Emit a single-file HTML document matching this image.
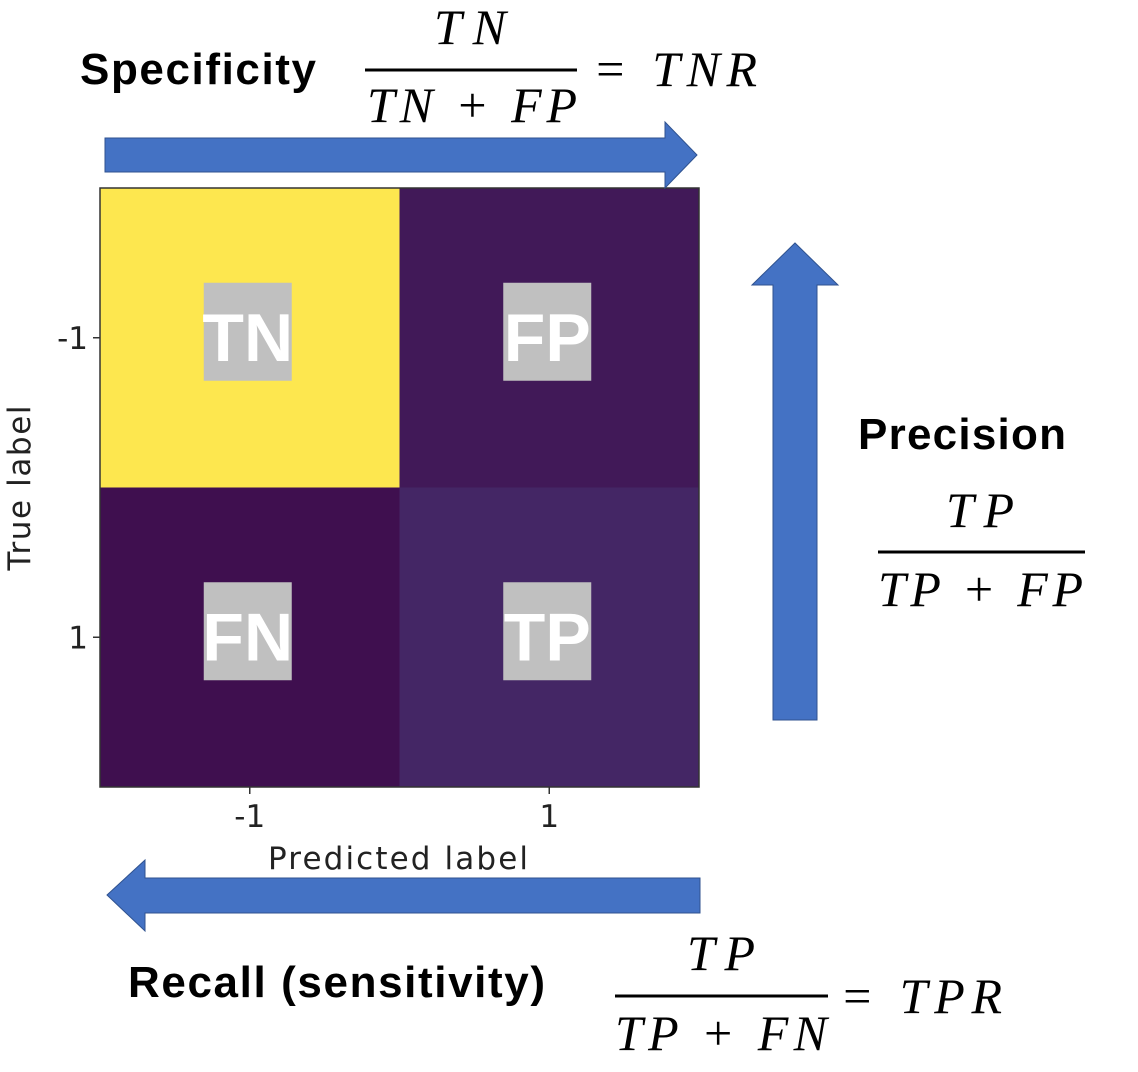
<!DOCTYPE html>
<html><head><meta charset="utf-8"><style>
body{margin:0;background:#fff;width:1138px;height:1072px;overflow:hidden}
svg{display:block}
.b{font-family:"Liberation Sans",sans-serif;font-weight:bold;fill:#000}
.m{font-family:"Liberation Serif",serif;font-style:italic;fill:#000}
.t{font-family:"DejaVu Sans","Liberation Sans",sans-serif;fill:#222}
</style></head><body>
<svg id="s" width="1138" height="1072">
  <g id="cells"></g>
  <rect x="100" y="188" width="599" height="599" fill="none" stroke="#333" stroke-width="1.5"/>
  <g id="ticks"></g>
  <text class="t" x="398" y="869" font-size="31" text-anchor="middle" textLength="260">Predicted label</text>
  <text class="t" transform="translate(30,488) rotate(-90)" font-size="31" text-anchor="middle" textLength="165">True label</text>

  <polygon points="105,138 665,138 665,122 697,155 665,188 665,172 105,172" fill="#4472c4" stroke="#2f528f" stroke-width="1"/>
  <polygon points="773,720 773,285 752,285 795,243 838,285 817,285 817,720" fill="#4472c4" stroke="#2f528f" stroke-width="1"/>
  <polygon points="700,878 145,878 145,860 107,895 145,931 145,913 700,913" fill="#4472c4" stroke="#2f528f" stroke-width="1"/>

  <text class="b" x="80" y="84" font-size="44" textLength="236">Specificity</text>
  <g>
    <text class="m" x="434" y="44" font-size="50" textLength="72">TN</text>
    <line x1="365" y1="70" x2="577" y2="70" stroke="#000" stroke-width="3"/>
    <text class="m" x="367" y="122" font-size="50" textLength="210">TN + FP</text>
    <text class="m" x="593" y="86" font-size="50" textLength="164">= TNR</text>
  </g>
  <text class="b" x="858" y="449" font-size="44" textLength="208">Precision</text>
  <g>
    <text class="m" x="946" y="527" font-size="50" textLength="68">TP</text>
    <line x1="878" y1="552" x2="1085" y2="552" stroke="#000" stroke-width="3"/>
    <text class="m" x="878" y="606" font-size="50" textLength="205">TP + FP</text>
  </g>
  <text class="b" x="128" y="997" font-size="44" textLength="417">Recall (sensitivity)</text>
  <g>
    <text class="m" x="687" y="970" font-size="50" textLength="68">TP</text>
    <line x1="615" y1="996" x2="828" y2="996" stroke="#000" stroke-width="3"/>
    <text class="m" x="615" y="1050" font-size="50" textLength="212">TP + FN</text>
    <text class="m" x="840" y="1013" font-size="50" textLength="162">= TPR</text>
  </g>
</svg>
<script>
const rowLabels=["-1","1"];
const colLabels=["-1","1"];
const cellValues=[[1.0,0.03],[0.0,0.07]];
const cellNames=[["TN","FP"],["FN","TP"]];
const NS="http://www.w3.org/2000/svg";
const X0=100,Y0=188,S=599;
const cw=S/colLabels.length, ch=S/rowLabels.length;
function xPos(i){return X0+i*cw;}
function yPos(i){return Y0+i*ch;}
const stops=[[0,[0x3f,0x0f,0x4f]],[0.1,[0x46,0x30,0x6e]],[1,[0xfd,0xe7,0x4f]]];
function color(v){
  for(let k=1;k<stops.length;k++){
    if(v<=stops[k][0]){const a=stops[k-1],b=stops[k];const t=(v-a[0])/(b[0]-a[0]);
      const c=a[1].map((x,j)=>Math.round(x+(b[1][j]-x)*t));return `rgb(${c})`;}
  }
  return 'rgb('+stops[stops.length-1][1]+')';
}
function mk(tag,attrs,parent){const e=document.createElementNS(NS,tag);for(const k in attrs)e.setAttribute(k,attrs[k]);parent.appendChild(e);return e;}
const cells=document.getElementById('cells');
for(let r=0;r<rowLabels.length;r++)for(let c=0;c<colLabels.length;c++){
  const rect=mk('rect',{x:xPos(c),y:yPos(r),width:cw,height:ch,fill:color(cellValues[r][c])},cells);
  
  
  const cx=xPos(c)+cw/2, cy=yPos(r)+ch/2;
  const box=mk('rect',{x:cx-46,y:cy-55,width:88,height:98,fill:'#c0c0c0'},cells);
  
  
  const t=mk('text',{x:cx-2,y:cy+23,'text-anchor':'middle','font-size':'68','font-family':'"Liberation Sans",sans-serif','font-weight':'bold',fill:'#fff'},cells);
  t.textContent=cellNames[r][c];
  
  
}
const ticks=document.getElementById('ticks');
colLabels.forEach((l,i)=>{
  const x=xPos(i)+cw/2;
  mk('line',{x1:x,y1:787,x2:x,y2:794,stroke:'#333','stroke-width':1.5},ticks);
  const t=mk('text',{x:x,y:827,'text-anchor':'middle','font-size':'31',class:'t'},ticks);
  t.textContent=l;
  
  
});
rowLabels.forEach((l,i)=>{
  const y=yPos(i)+ch/2;
  mk('line',{x1:93,y1:y,x2:100,y2:y,stroke:'#333','stroke-width':1.5},ticks);
  const t=mk('text',{x:88,y:y+11,'text-anchor':'end','font-size':'31',class:'t'},ticks);
  t.textContent=l;
  
  
});
</script>
</body></html>
